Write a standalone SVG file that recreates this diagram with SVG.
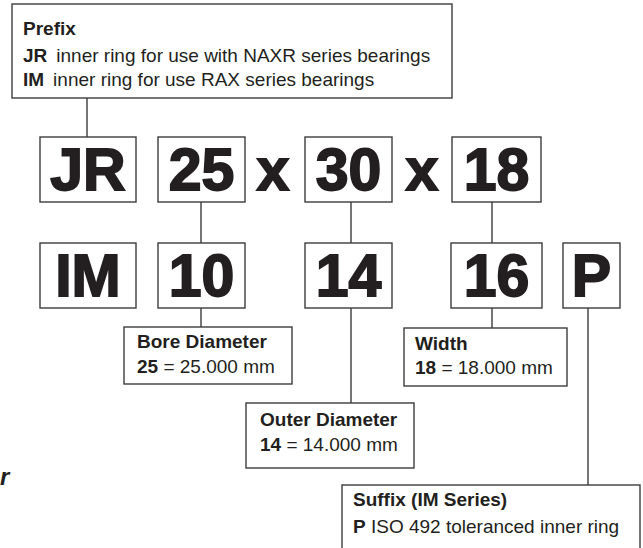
<svg xmlns="http://www.w3.org/2000/svg" width="643" height="548" viewBox="0 0 643 548">
<style>
.box{fill:#fff;stroke:#3c3c3c;stroke-width:1.4}
.big{font-family:"Liberation Sans",Arial,sans-serif;font-weight:bold;font-size:59px;fill:#231f20;stroke:#231f20;stroke-width:1.8;text-anchor:middle}
.t{font-family:"Liberation Sans",Arial,sans-serif;font-size:19px;fill:#231f20}
.b{font-weight:bold}
.conn line{stroke:#3c3c3c;stroke-width:1.4}
</style>
<rect width="643" height="548" fill="#fff"/>
<g class="conn" id="connectors">
<line x1="87" y1="98" x2="87" y2="137"/>
<line x1="201" y1="202" x2="201" y2="243"/>
<line x1="201" y1="308" x2="201" y2="327"/>
<line x1="351" y1="202" x2="351" y2="243"/>
<line x1="351" y1="308" x2="351" y2="403"/>
<line x1="492" y1="202" x2="492" y2="243"/>
<line x1="492" y1="308" x2="492" y2="328"/>
<line x1="588" y1="308" x2="588" y2="485"/>
</g>
<g id="prefix">
<rect class="box" x="12" y="4" width="440" height="94"/>
<text class="t b" x="23" y="35">Prefix</text>
<text class="t" x="23" y="62"><tspan class="b">JR</tspan><tspan dx="9">inner ring for use with NAXR series bearings</tspan></text>
<text class="t" x="23" y="86"><tspan class="b">IM</tspan><tspan dx="9">inner ring for use RAX series bearings</tspan></text>
</g>
<g id="jr"><rect class="box" x="40" y="137" width="96" height="65"/><text class="big" x="88" y="190">JR</text></g>
<g id="n25"><rect class="box" x="158" y="137" width="87" height="65"/><text class="big" x="201.5" y="190">25</text></g>
<g id="x1"><text class="big" x="273" y="190">x</text></g>
<g id="n30"><rect class="box" x="305" y="137" width="87" height="65"/><text class="big" x="348.5" y="190">30</text></g>
<g id="x2"><text class="big" x="422" y="190">x</text></g>
<g id="n18"><rect class="box" x="452" y="137" width="89" height="65"/><text class="big" x="496.5" y="190">18</text></g>
<g id="im"><rect class="box" x="40" y="243" width="96" height="65"/><text class="big" x="88" y="296">IM</text></g>
<g id="n10"><rect class="box" x="158" y="243" width="87" height="65"/><text class="big" x="201.5" y="296">10</text></g>
<g id="n14"><rect class="box" x="305" y="243" width="87" height="65"/><text class="big" x="348.5" y="296">14</text></g>
<g id="n16"><rect class="box" x="451" y="243" width="91" height="65"/><text class="big" x="496.5" y="296">16</text></g>
<g id="p"><rect class="box" x="563" y="243" width="57" height="65"/><text class="big" x="591.5" y="296">P</text></g>
<g id="bore">
<rect class="box" x="124" y="327" width="168" height="57"/>
<text class="t b" x="137" y="348">Bore Diameter</text>
<text class="t" x="137" y="373"><tspan class="b">25</tspan> = 25.000 mm</text>
</g>
<g id="width">
<rect class="box" x="404" y="328" width="163" height="58"/>
<text class="t b" x="415" y="350">Width</text>
<text class="t" x="415" y="374"><tspan class="b">18</tspan> = 18.000 mm</text>
</g>
<g id="outer">
<rect class="box" x="246" y="403" width="168" height="65"/>
<text class="t b" x="260" y="426">Outer Diameter</text>
<text class="t" x="260" y="451"><tspan class="b">14</tspan> = 14.000 mm</text>
</g>
<g id="suffix">
<rect class="box" x="342" y="485" width="298" height="80"/>
<text class="t b" x="353" y="506">Suffix (IM Series)</text>
<text class="t" x="353" y="533"><tspan class="b">P</tspan> ISO 492 toleranced inner ring</text>
</g>
<text x="0" y="485" style="font-family:'Liberation Sans',Arial,sans-serif;font-weight:bold;font-style:italic;font-size:24px;fill:#231f20">r</text>
</svg>
